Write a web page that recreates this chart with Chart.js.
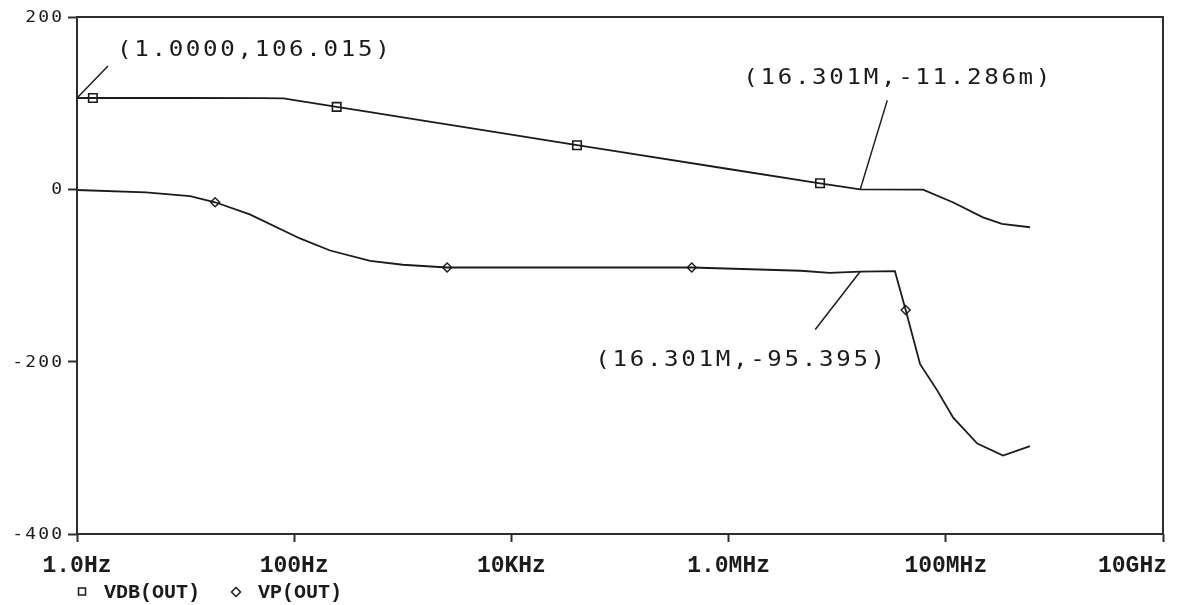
<!DOCTYPE html>
<html>
<head>
<meta charset="utf-8">
<title>VDB(OUT) / VP(OUT)</title>
<script src="https://cdn.jsdelivr.net/npm/chart.js@4.4.1/dist/chart.umd.min.js"></script>
<style>
  html, body { margin: 0; padding: 0; background: #fff; }
  #wrap { width: 1177px; height: 605px; }
</style>
</head>
<body>
<div id="wrap"><canvas id="bode" width="1177" height="605"></canvas></div>
<script>
// Magnitude trace VDB(OUT): frequency (Hz) and gain (dB)
const vdbFreq = [1, 1.4, 10, 50, 80, 100, 150, 246, 500, 1000, 10000, 40200, 100000, 1e6, 6.95e6, 16.301e6, 61.7e6, 116e6, 220e6, 329e6, 596e6];
const vdbVal  = [106.015, 106.0, 106.0, 105.8, 105.5, 103.5, 100.0, 95.7, 89.5, 83.5, 63.4, 51.2, 43.4, 23.6, 7.0, -0.011286, -0.3, -15, -32.6, -40, -44];

// Phase trace VP(OUT): frequency (Hz) and phase (degrees)
const vpFreq = [1, 4.3, 11, 18.7, 39, 113, 214, 500, 1000, 2560, 458000, 4.6e6, 8.5e6, 16.301e6, 34e6, 42.7e6, 58e6, 83e6, 117e6, 195e6, 337e6, 596e6];
const vpVal  = [-0.8, -3.5, -8, -15, -29, -57, -71, -83, -87.5, -90.7, -90.7, -94.5, -97, -95.395, -95, -140, -203, -233, -265, -295, -309, -298];

// Trace symbols placed along each curve
const vdbMarkFreq = [1.4, 246, 40200, 6.95e6];
const vdbMarkVal  = [106.0, 95.7, 51.2, 7.0];
const vpMarkFreq  = [18.7, 2560, 458000, 42.7e6];
const vpMarkVal   = [-15, -90.7, -90.7, -140];

// Axis ticks
const xTickValues = [1, 100, 1e4, 1e6, 1e8, 1e10];
const xTickLabels = ['1.0Hz', '100Hz', '10KHz', '1.0MHz', '100MHz', '10GHz'];
const yTickValues = [-400, -200, 0, 200];
const yTickLabels = ['-400', '-200', '0', '200'];

// Cursor read-outs
const cursorFreq = [1, 16.301e6, 16.301e6];
const cursorVal  = [106.015, -0.011286, -95.395];
const cursorText = ['(1.0000,106.015)', '(16.301M,-11.286m)', '(16.301M,-95.395)'];

const legendNames = ['VDB(OUT)', 'VP(OUT)'];

const INK = '#1b1b1b';
const FRAME = '#2e2e2e';

const toPoints = (xs, ys) => xs.map((v, i) => ({ x: v, y: ys[i] }));

// leader-line end and text start, in pixels relative to each cursor point
const cursorLayout = [
  { lead: [31, -32], text: [40, -48] },
  { lead: [27, -89], text: [-117, -111] },
  { lead: [-45, 58], text: [-265, 89] }
];

// text drawn with a horizontal stretch, like a widened screen font
function wideText(ctx, text, x, y, sx, spacing, align) {
  ctx.save();
  ctx.translate(align === 'right' ? x + spacing * sx : x, y);
  ctx.scale(sx, 1);
  ctx.letterSpacing = spacing + 'px';
  ctx.textAlign = align;
  ctx.fillText(text, 0, 0);
  ctx.restore();
}

const overlay = {
  id: 'overlay',
  afterDraw(chart) {
    const { ctx, chartArea: a, scales } = chart;
    const xs = scales.x, ys = scales.y;
    ctx.save();

    // plot frame
    ctx.strokeStyle = FRAME;
    ctx.lineWidth = 2;
    ctx.strokeRect(a.left, a.top, a.right - a.left, a.bottom - a.top);

    ctx.fillStyle = INK;

    // y tick labels
    ctx.font = '15px "DejaVu Sans Mono"';
    ctx.textBaseline = 'middle';
    yTickValues.forEach((v, i) => {
      wideText(ctx, yTickLabels[i], a.left - 15, ys.getPixelForValue(v) + 1, 1.2, 1.8, 'right');
    });

    // x tick labels
    ctx.font = 'bold 23px "Liberation Mono"';
    ctx.textBaseline = 'alphabetic';
    ctx.textAlign = 'left';
    xTickValues.forEach((v, i) => {
      const w = ctx.measureText(xTickLabels[i]).width;
      let left = xs.getPixelForValue(v) - w / 2;
      left = Math.min(left, chart.width - 10 - w);
      ctx.fillText(xTickLabels[i], left, a.bottom + 38);
    });

    // legend
    const ly = a.bottom + 58;
    ctx.strokeStyle = INK;
    ctx.lineWidth = 1.5;
    ctx.strokeRect(78.5, ly - 4, 7, 7);
    ctx.beginPath();
    ctx.moveTo(236, ly - 4.5); ctx.lineTo(240.5, ly); ctx.lineTo(236, ly + 4.5); ctx.lineTo(231.5, ly);
    ctx.closePath();
    ctx.stroke();
    ctx.font = 'bold 20px "Liberation Mono"';
    ctx.fillText(legendNames[0], 104, ly + 6);
    ctx.fillText(legendNames[1], 258, ly + 6);

    // cursor read-outs with leader lines
    ctx.font = '22px "DejaVu Sans Mono"';
    ctx.textBaseline = 'middle';
    ctx.lineWidth = 1.5;
    cursorFreq.forEach((f, i) => {
      const px = xs.getPixelForValue(f);
      const py = ys.getPixelForValue(cursorVal[i]);
      const L = cursorLayout[i];
      ctx.beginPath();
      ctx.moveTo(px, py);
      ctx.lineTo(px + L.lead[0], py + L.lead[1]);
      ctx.stroke();
      wideText(ctx, cursorText[i], px + L.text[0], py + L.text[1], 1.1, 2.4, 'left');
    });
    ctx.restore();
  }
};

new Chart(document.getElementById('bode'), {
  type: 'line',
  data: {
    datasets: [
      { label: 'VDB(OUT)', data: toPoints(vdbFreq, vdbVal), borderColor: INK, borderWidth: 1.8, pointRadius: 0, tension: 0 },
      { label: 'VP(OUT)', data: toPoints(vpFreq, vpVal), borderColor: INK, borderWidth: 1.8, pointRadius: 0, tension: 0 },
      { label: 'VDB(OUT) symbols', data: toPoints(vdbMarkFreq, vdbMarkVal), showLine: false, pointStyle: 'rect',
        pointRadius: 6, borderColor: INK, backgroundColor: '#fff', pointBorderWidth: 1.6 },
      { label: 'VP(OUT) symbols', data: toPoints(vpMarkFreq, vpMarkVal), showLine: false, pointStyle: 'rectRot',
        pointRadius: 4.5, borderColor: INK, backgroundColor: '#fff', pointBorderWidth: 1.4 }
    ]
  },
  options: {
    responsive: false,
    animation: false,
    events: [],
    layout: { padding: { top: 17, right: 14, left: 0, bottom: 0 } },
    plugins: { legend: { display: false }, tooltip: { enabled: false } },
    scales: {
      x: {
        type: 'logarithmic',
        min: 1, max: 1e10,
        afterBuildTicks: s => { s.ticks = xTickValues.map(v => ({ value: v })); },
        afterFit: s => { s.height = 71; },
        ticks: { display: false },
        border: { display: false },
        grid: { drawOnChartArea: false, drawTicks: true, tickLength: 8, tickWidth: 2, tickColor: FRAME }
      },
      y: {
        type: 'linear',
        min: -400, max: 200,
        afterBuildTicks: s => { s.ticks = yTickValues.map(v => ({ value: v })); },
        afterFit: s => { s.width = 77; },
        ticks: { display: false },
        border: { display: false },
        grid: { drawOnChartArea: false, drawTicks: true, tickLength: 9, tickWidth: 2, tickColor: FRAME }
      }
    }
  },
  plugins: [overlay]
});
</script>
</body>
</html>
